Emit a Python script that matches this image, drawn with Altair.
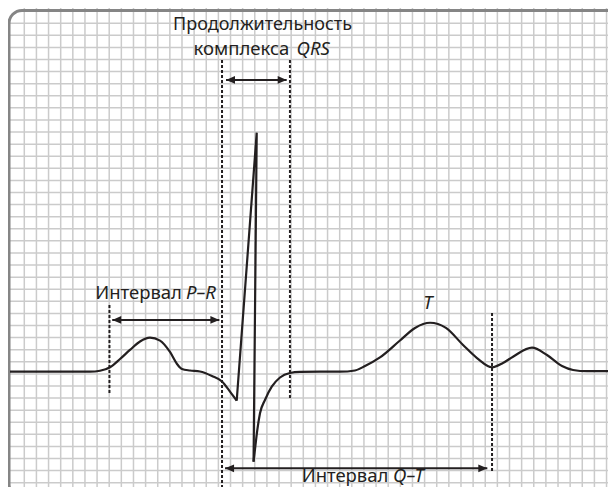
import altair as alt
import pandas as pd

# ECG trace, in small grid squares (x: time, y: amplitude)
pre_x = [-1.18, 5.42, 6.24, 7.07, 7.89, 8.71, 9.54, 10.36, 11.19, 12.01, 12.59, 13.00,
         13.66, 14.48, 15.47, 16.30, 16.96, 17.51]
pre_y = [9.18, 9.18, 9.26, 9.55, 10.23, 10.98, 11.68, 11.99, 11.75, 10.81, 9.82, 9.40,
         9.28, 9.20, 8.83, 8.37, 7.53, 6.78]
qrs_x = [17.51, 19.16, 18.90]
qrs_y = [6.78, 28.95, 1.74]
post_x = [18.90, 19.06, 19.21, 19.43, 19.84, 20.40, 21.08, 21.90, 22.73, 24.38, 26.03,
          27.26, 28.09, 29.32, 30.97, 32.21, 33.45, 34.76, 36.17, 37.32, 38.56, 39.46,
          40.29, 41.86, 43.09, 44.33, 45.24, 46.39, 48.78]
post_y = [1.74, 3.12, 4.36, 5.74, 6.84, 7.94, 8.70, 9.07, 9.16, 9.18, 9.18,
          9.28, 9.65, 10.36, 11.76, 12.80, 13.23, 12.80, 11.39, 10.31, 9.55, 9.90,
          10.42, 11.17, 10.56, 9.65, 9.32, 9.22, 9.22]

# dashed interval markers
marker_x = [7.02, 16.30, 21.90, 38.56]
marker_top = [14.70, 34.96, 34.96, 14.04]
marker_bottom = [7.42, -1.02, 6.84, 0.80]

# double-headed arrows
arrow_y = [33.31, 13.46, 1.19]
arrow_start = [16.63, 7.25, 16.55]
arrow_end = [21.63, 16.08, 38.17]

# labels
title_text = ["Продолжительность"]
title_x = [19.64]
title_y = [37.40]
qrs_reg_text = ["комплекса"]
qrs_reg_x = [21.85]
qrs_it_text = ["QRS"]
qrs_it_x = [22.45]
qrs_label_y = [35.36]
regular_text = ["Интервал", "Интервал"]
regular_x = [13.00, 30.02]
regular_y = [15.17, 0.03]
italic_text = ["P–R", "Q–T"]
italic_x = [13.33, 30.40]
italic_y = [15.17, 0.03]
t_text = ["T"]
t_x = [33.28]
t_y = [14.34]

# paper grid (small squares)
grid_x = list(range(0, 49))
grid_y = list(range(0, 39))

# frame
frame_x = [-1.26]
frame_x2 = [49.19]
frame_y = [39.06]
frame_y2 = [-1.18]

INK = "#231f20"
FONT = "Noto Sans"

xs = alt.Scale(domain=[-1.344, 48.12], nice=False, zero=False)
ys = alt.Scale(domain=[-0.356, 39.26], nice=False, zero=False)


def X(f):
    return alt.X(f, type="quantitative", scale=xs, axis=None)


def Y(f):
    return alt.Y(f, type="quantitative", scale=ys, axis=None)


def label(xv, yv, tv, align, size, italic=False):
    kw = dict(font=FONT, fontSize=size, color=INK, align=align, baseline="alphabetic")
    if italic:
        kw["fontStyle"] = "italic"
    return alt.Chart(pd.DataFrame({"x": xv, "y": yv, "t": tv})).mark_text(**kw).encode(
        x=X("x"), y=Y("y"), text="t:N"
    )


gx = alt.Chart(pd.DataFrame({"x": grid_x})).mark_rule(color="#cbcbcb", strokeWidth=1.5).encode(x=X("x"))
gy = alt.Chart(pd.DataFrame({"y": grid_y})).mark_rule(color="#cbcbcb", strokeWidth=1.5).encode(y=Y("y"))

frame = alt.Chart(pd.DataFrame({"x": frame_x, "x2": frame_x2, "y": frame_y, "y2": frame_y2})).mark_rect(
    fill=None, stroke="#858585", strokeWidth=3, cornerRadius=13
).encode(x=X("x"), x2="x2", y=Y("y"), y2="y2")

markers = alt.Chart(pd.DataFrame({"x": marker_x, "t": marker_top, "b": marker_bottom})).mark_rule(
    color=INK, strokeWidth=2, strokeDash=[3, 2]
).encode(x=X("x"), y=Y("t"), y2="b")

arr_df = pd.DataFrame({"y": arrow_y, "a": arrow_start, "b": arrow_end})
arrow_line = alt.Chart(arr_df).mark_rule(color=INK, strokeWidth=2).encode(x=X("a"), x2="b", y=Y("y"))
head_left = alt.Chart(arr_df).mark_point(
    shape="M-1,0L1,-0.85L1,0.85Z", size=81, filled=True, color=INK, opacity=1, xOffset=4.5
).encode(x=X("a"), y=Y("y"))
head_right = alt.Chart(arr_df).mark_point(
    shape="M1,0L-1,-0.85L-1,0.85Z", size=81, filled=True, color=INK, opacity=1, xOffset=-4.5
).encode(x=X("b"), y=Y("y"))

pre = alt.Chart(pd.DataFrame({"x": pre_x, "y": pre_y, "o": range(len(pre_x))})).mark_line(
    color=INK, strokeWidth=2.2, interpolate="monotone"
).encode(x=X("x"), y=Y("y"), order="o:Q")
qrs = alt.Chart(pd.DataFrame({"x": qrs_x, "y": qrs_y, "o": range(len(qrs_x))})).mark_line(
    color=INK, strokeWidth=2.2, strokeJoin="miter", strokeMiterLimit=4
).encode(x=X("x"), y=Y("y"), order="o:Q")
post = alt.Chart(pd.DataFrame({"x": post_x, "y": post_y, "o": range(len(post_x))})).mark_line(
    color=INK, strokeWidth=2.2, interpolate="monotone"
).encode(x=X("x"), y=Y("y"), order="o:Q")

texts = [
    label(title_x, title_y, title_text, "center", 18),
    label(qrs_reg_x, qrs_label_y, qrs_reg_text, "right", 18.5),
    label(qrs_it_x, qrs_label_y, qrs_it_text, "left", 18.5, italic=True),
    label(regular_x, regular_y, regular_text, "right", 18.5),
    label(italic_x, italic_y, italic_text, "left", 18.5, italic=True),
    label(t_x, t_y, t_text, "center", 18.5, italic=True),
]

chart = alt.layer(
    gx, gy, frame, markers, arrow_line, head_left, head_right, pre, qrs, post, *texts
).properties(
    width=600, height=479, padding=0, autosize=alt.AutoSizeParams(type="none"), background="white"
).configure_view(stroke=None)

chart.save("out.html", embed_options={"renderer": "svg", "actions": False})
